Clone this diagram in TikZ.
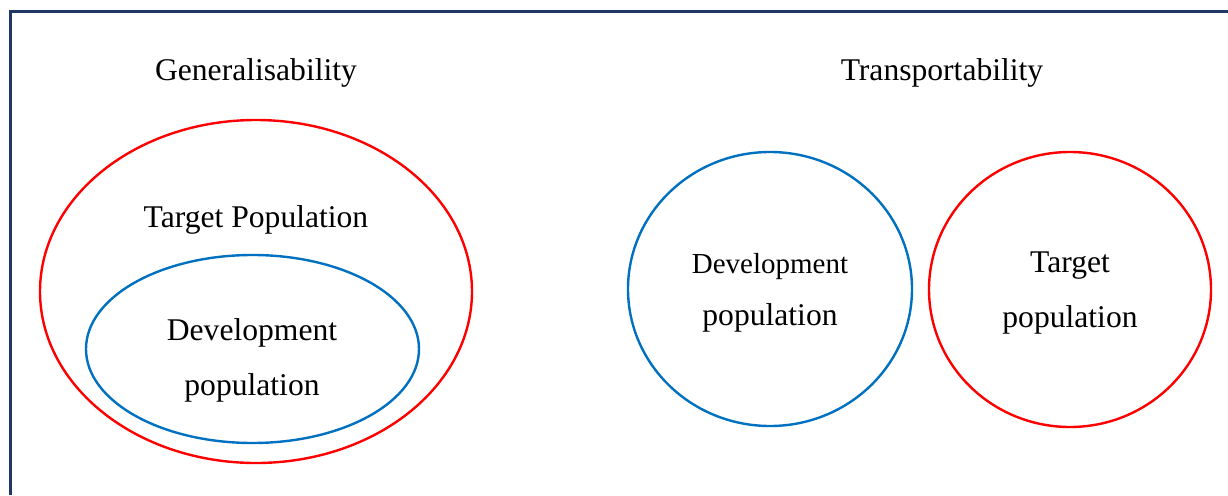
\documentclass[tikz,border=0pt]{standalone}
\usepackage{fontspec}
\setmainfont{Liberation Serif}
\definecolor{framec}{HTML}{203864}
\definecolor{redc}{HTML}{FF0000}
\definecolor{bluec}{HTML}{0070C0}
\begin{document}
\begin{tikzpicture}[x=1pt,y=-1pt,
  redring/.style={draw=redc,line width=2.4pt},
  bluering/.style={draw=bluec,line width=2.4pt},
  lbl/.style={align=center,inner sep=0pt,font=\fontsize{31.6}{55}\selectfont},
  frameline/.style={draw=framec,line width=3pt}]
\useasboundingbox (0,0) rectangle (1228,495);
\draw[frameline] (10,495) -- (10,11.5) -- (1228,11.5);
% shapes
\draw[redring] (256,291.5) ellipse [x radius=216, y radius=171.5];
\draw[bluering] (252.5,349) ellipse [x radius=166.5, y radius=94];
\draw[bluering] (770,289) ellipse [x radius=142, y radius=137];
\draw[redring] (1070,289.5) ellipse [x radius=141, y radius=137.5];
% labels
\node[lbl] (gen) at (256,73) {Generalisability};
\node[lbl] (tra) at (942,73) {Transportability};
\node[lbl] (tp) at (256,220) {Target Population};
\node[lbl] (dp1) at (252,360) {Development\\population};
\node[lbl,font=\fontsize{31.6}{52}\selectfont] (dp2) at (770,293) {{\fontsize{29}{52}\selectfont Development}\\population};
\node[lbl] (tp2) at (1070,293) {Target\\population};
\end{tikzpicture}
\end{document}
